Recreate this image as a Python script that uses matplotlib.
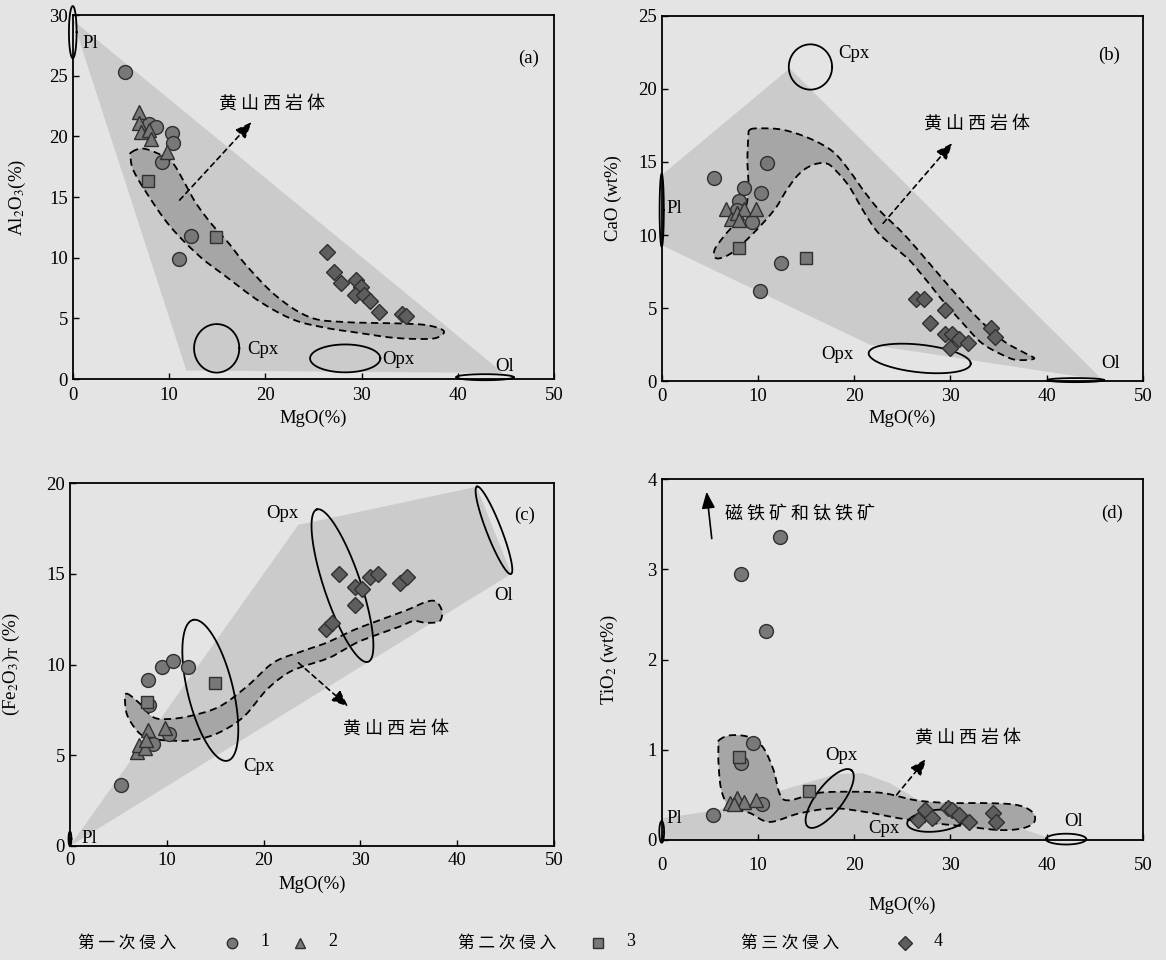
import matplotlib
matplotlib.use('Agg')
import matplotlib.pyplot as plt
import numpy as np

plt.rcParams['font.family'] = ['Liberation Serif', 'Noto Sans CJK SC']
plt.rcParams['mathtext.fontset'] = 'stix'

BG = '#e4e4e4'
LIGHT = '#cbcbcb'
DARK = '#a6a6a6'
MFILL = '#787878'
MEDGE = '#303030'
CJK = ['Noto Sans CJK SC', 'DejaVu Sans']

# ---------------- data: panel (a) Al2O3 vs MgO ----------------
a_c1_x = [5.4, 7.9, 8.6, 10.3, 10.4, 9.3, 12.3, 11.0]
a_c1_y = [25.3, 21.0, 20.8, 20.3, 19.5, 17.9, 11.8, 9.9]
a_t2_x = [6.9, 6.9, 7.1, 7.9, 8.1, 9.8]
a_t2_y = [22.0, 21.1, 20.4, 20.5, 19.8, 18.7]
a_s3_x = [7.85, 14.9]
a_s3_y = [16.3, 11.7]
a_d4_x = [26.4, 27.1, 27.9, 29.4, 29.9, 29.3, 30.3, 30.9, 31.8, 34.2, 34.6]
a_d4_y = [10.5, 8.8, 7.9, 8.2, 7.6, 6.9, 6.9, 6.4, 5.5, 5.4, 5.2]
a_field_x = [0.0, 11.8, 44.7]
a_field_y = [29.6, 0.7, 0.5]
a_hsx_x = [6.1, 7.3, 9.1, 10.4, 11.6, 12.8, 14.4, 16.2, 18.1, 21.2, 24.6, 28.1, 33.3, 36.7, 38.5,
           38.1, 36.8, 33.3, 29.8, 26.4, 22.9, 19.4, 16.0, 13.2, 10.1, 7.7, 6.3, 6.0]
a_hsx_y = [18.7, 19.0, 18.5, 17.8, 16.2, 14.5, 12.8, 11.2, 9.3, 6.8, 5.1, 4.7, 4.6, 4.45, 4.0,
           3.5, 3.3, 3.4, 3.8, 4.2, 4.9, 6.4, 8.4, 10.1, 12.6, 15.3, 17.2, 18.3]

# ---------------- data: panel (b) CaO vs MgO ----------------
b_c1_x = [5.4, 8.6, 10.9, 10.3, 8.0, 9.4, 12.4, 10.2, 7.8]
b_c1_y = [13.9, 13.2, 14.9, 12.9, 12.3, 10.9, 8.1, 6.2, 11.7]
b_t2_x = [6.7, 7.2, 7.8, 8.6, 9.8, 8.05]
b_t2_y = [11.75, 11.1, 11.5, 11.75, 11.75, 11.0]
b_s3_x = [8.0, 15.0]
b_s3_y = [9.1, 8.4]
b_d4_x = [26.4, 27.2, 29.4, 27.9, 29.4, 30.2, 30.9, 31.8, 30.0, 34.2, 34.6]
b_d4_y = [5.6, 5.6, 4.9, 3.95, 3.2, 3.2, 2.9, 2.6, 2.25, 3.65, 3.0]
b_field_x = [13.3, 45.8, 21.6, 0.0, 0.0]
b_field_y = [21.4, 0.07, 2.5, 9.3, 14.1]
b_hsx_x = [9.15, 10.2, 12.6, 15.4, 17.8, 19.5, 20.9, 22.6, 25.1, 27.5, 29.9, 32.7, 35.4, 37.5, 38.7,
           37.1, 35.8, 33.3, 31.3, 29.2, 27.5, 25.7, 23.7, 22.3, 20.9, 19.5, 18.1, 17.1, 15.7, 14.3,
           13.0, 11.9, 10.5, 8.8, 7.1, 5.7, 5.5, 6.7, 8.5, 9.0, 8.9, 9.0]
b_hsx_y = [17.2, 17.3, 17.2, 16.6, 15.7, 14.4, 13.1, 11.7, 10.1, 8.3, 6.45, 4.4, 2.8, 2.0, 1.55,
           1.44, 1.67, 2.58, 3.95, 5.5, 6.9, 8.3, 9.4, 10.3, 11.7, 13.3, 14.4, 14.9, 14.8, 14.2,
           13.1, 11.9, 10.8, 9.65, 8.7, 8.4, 9.0, 10.1, 11.5, 13.1, 15.1, 16.7]

# ---------------- data: panel (c) (Fe2O3)T vs MgO ----------------
c_c1_x = [5.3, 8.1, 9.5, 10.6, 12.2, 8.2, 10.2, 8.6]
c_c1_y = [3.36, 9.15, 9.84, 10.2, 9.84, 7.77, 6.2, 5.6]
c_t2_x = [6.9, 7.1, 7.75, 8.1, 7.9, 9.8]
c_t2_y = [5.2, 5.56, 5.4, 6.4, 5.84, 6.5]
c_s3_x = [8.0, 15.0]
c_s3_y = [7.95, 9.0]
c_d4_x = [27.8, 29.4, 30.2, 31.0, 31.8, 34.1, 34.8, 29.4, 26.5, 27.1]
c_d4_y = [14.97, 14.3, 14.16, 14.8, 15.0, 14.5, 14.84, 13.3, 11.94, 12.3]
c_field_x = [0.0, 23.6, 42.0, 45.6]
c_field_y = [0.0, 17.7, 19.8, 15.0]
c_hsx_x = [5.85, 7.2, 8.6, 10.3, 12.7, 15.5, 18.3, 21.0, 23.8, 26.5, 29.3, 32.0, 34.8, 36.5, 37.7,
           38.4, 38.2, 36.8, 35.5, 34.1, 32.0, 29.6, 26.9, 24.1, 22.4, 20.3, 17.9, 15.2, 12.7, 10.7,
           8.6, 7.2, 6.0, 5.7]
c_hsx_y = [8.4, 7.86, 7.1, 7.0, 7.2, 7.7, 8.8, 10.1, 10.7, 11.2, 11.9, 12.45, 13.0, 13.4, 13.5,
           13.0, 12.4, 12.3, 12.4, 12.1, 11.7, 11.2, 10.4, 9.9, 9.5, 8.6, 7.1, 6.2, 5.84, 5.8,
           5.9, 6.2, 7.1, 7.86]

# ---------------- data: panel (d) TiO2 vs MgO ----------------
d_c1_x = [12.3, 8.2, 10.8, 9.5, 8.2, 10.4, 5.3]
d_c1_y = [3.36, 2.95, 2.32, 1.07, 0.85, 0.395, 0.28]
d_t2_x = [7.1, 7.8, 8.6, 9.8, 7.5]
d_t2_y = [0.41, 0.46, 0.42, 0.44, 0.40]
d_s3_x = [8.05, 15.3]
d_s3_y = [0.92, 0.54]
d_d4_x = [26.6, 27.3, 28.1, 29.7, 30.2, 30.9, 31.96, 34.4, 34.7]
d_d4_y = [0.22, 0.33, 0.24, 0.35, 0.33, 0.28, 0.2, 0.3, 0.2]
d_field_x = [0.0, 5.7, 14.3, 18.1, 20.9, 23.7, 26.4, 29.9, 35.1, 38.9, 40.3, 40.3, 0.0]
d_field_y = [0.24, 0.33, 0.61, 0.73, 0.74, 0.63, 0.46, 0.33, 0.22, 0.07, 0.02, 0.0, 0.0]
d_hsx_x = [5.9, 7.1, 9.1, 10.5, 11.6, 12.3, 13.3, 16.1, 19.5, 23.0, 26.4, 29.9, 33.3, 36.8, 38.5,
           38.7, 37.5, 35.1, 31.6, 28.2, 24.7, 21.2, 17.8, 14.3, 11.2, 9.15, 7.1, 6.2, 5.9, 5.9]
d_hsx_y = [1.1, 1.16, 1.14, 1.03, 0.78, 0.5, 0.44, 0.52, 0.535, 0.52, 0.44, 0.41, 0.41, 0.39, 0.31,
           0.2, 0.13, 0.11, 0.15, 0.185, 0.24, 0.31, 0.35, 0.295, 0.2, 0.3, 0.37, 0.55, 0.85, 1.03]

# mineral ellipses: name -> (centre, semi-axis vector 1, semi-axis vector 2)
a_minerals = {'Pl': ((0.0, 28.6), (0.4, 0.0), (0.0, 2.15)),
              'Cpx': ((14.95, 2.53), (2.35, 0.0), (0.0, 2.0)),
              'Opx': ((28.3, 1.7), (3.65, 0.0), (0.0, 1.15)),
              'Ol': ((42.8, 0.15), (3.0, 0.0), (0.0, 0.25))}
b_minerals = {'Pl': ((0.0, 11.7), (0.22, 0.0), (0.0, 2.5)),
              'Cpx': ((15.45, 21.5), (2.25, 0.0), (0.0, 1.55)),
              'Opx': ((26.8, 1.55), (5.3, -0.35), (0.0, 0.95)),
              'Ol': ((43.0, 0.07), (2.95, 0.0), (0.0, 0.14))}
c_minerals = {'Pl': ((0.0, 0.4), (0.15, 0.0), (0.0, 0.4)),
              'Cpx': ((14.5, 8.58), (-1.79, 3.88), (2.27, 0.30)),
              'Opx': ((28.15, 14.35), (-2.65, 4.2), (1.79, 0.33)),
              'Ol': ((43.8, 17.4), (-1.76, 2.41), (0.71, 0.147))}
d_minerals = {'Pl': ((0.0, 0.09), (0.25, 0.0), (0.0, 0.12)),
              'Cpx': ((28.5, 0.214), (3.0, 0.03), (0.0, 0.12)),
              'Opx': ((17.45, 0.46), (2.25, 0.314), (1.1, -0.09)),
              'Ol': ((42.0, 0.01), (2.1, 0.0), (0.0, 0.06))}

# label positions (x, y, ha)
a_labels = {'Pl': (1.8, 27.7, 'center'), 'Cpx': (18.1, 2.4, 'left'), 'Opx': (32.2, 1.6, 'left'),
            'Ol': (44.9, 1.0, 'center'), '(a)': (47.3, 26.4, 'center')}
b_labels = {'Pl': (0.5, 11.8, 'left'), 'Cpx': (20.0, 22.4, 'center'), 'Opx': (18.3, 1.8, 'center'),
            'Ol': (46.6, 1.2, 'center'), '(b)': (46.5, 22.3, 'center')}
c_labels = {'Pl': (1.2, 0.42, 'left'), 'Cpx': (19.5, 4.4, 'center'), 'Opx': (21.9, 18.3, 'center'),
            'Ol': (44.8, 13.8, 'center'), '(c)': (47.0, 18.2, 'center')}
d_labels = {'Pl': (0.5, 0.24, 'left'), 'Cpx': (23.1, 0.13, 'center'), 'Opx': (18.7, 0.94, 'center'),
            'Ol': (42.8, 0.2, 'center'), '(d)': (46.8, 3.62, 'center')}


def smooth_closed(xs, ys, n=16):
    # periodic Catmull-Rom through the traced outline
    P = np.column_stack([xs, ys])
    N = len(P)
    t = np.linspace(0, 1, n, endpoint=False)[:, None]
    out = []
    for i in range(N):
        p0, p1, p2, p3 = P[(i - 1) % N], P[i], P[(i + 1) % N], P[(i + 2) % N]
        seg = 0.5 * (2 * p1 + (-p0 + p2) * t + (2 * p0 - 5 * p1 + 4 * p2 - p3) * t ** 2
                     + (-p0 + 3 * p1 - 3 * p2 + p3) * t ** 3)
        out.append(seg)
    out = np.vstack(out)
    return np.vstack([out, out[:1]])


def draw_ellipse(ax, c, u, v, lw=1.3):
    t = np.linspace(0, 2 * np.pi, 200)
    x = c[0] + u[0] * np.cos(t) + v[0] * np.sin(t)
    y = c[1] + u[1] * np.cos(t) + v[1] * np.sin(t)
    ax.plot(x, y, color='black', lw=lw, zorder=4, clip_on=False)


def panel(ax, ymax, ystep, field, hsx, pts, minerals, labels):
    ax.set_facecolor(BG)
    ax.fill(field[0], field[1], color=LIGHT, lw=0, zorder=1)
    xy = smooth_closed(*hsx)
    ax.fill(xy[:, 0], xy[:, 1], color=DARK, lw=0, zorder=2)
    ax.plot(xy[:, 0], xy[:, 1], color='black', lw=1.3, ls=(0, (4, 2.5)), zorder=3)
    for name, (c, u, v) in minerals.items():
        draw_ellipse(ax, c, u, v)
    (c1x, c1y), (t2x, t2y), (s3x, s3y), (d4x, d4y) = pts
    kw = dict(linestyle='none', markeredgecolor=MEDGE, markeredgewidth=1.0, zorder=5)
    ax.plot(c1x, c1y, marker='o', ms=10, markerfacecolor=MFILL, **kw)
    ax.plot(t2x, t2y, marker='^', ms=10.5, markerfacecolor=MFILL, **kw)
    ax.plot(s3x, s3y, marker='s', ms=9, markerfacecolor=MFILL, **kw)
    ax.plot(d4x, d4y, marker='D', ms=7.8, markerfacecolor='#5e5e5e', **kw)
    for txt, (x, y, ha) in labels.items():
        ax.text(x, y, txt, fontsize=13.5, ha=ha, va='center', zorder=6)
    ax.set_xlim(0, 50)
    ax.set_ylim(0, ymax)
    ax.set_xticks(np.arange(0, 51, 10))
    ax.set_yticks(np.arange(0, ymax + 0.01, ystep))
    ax.tick_params(direction='in', length=4, width=1, labelsize=13.5, top=False, right=False)
    for s in ax.spines.values():
        s.set_linewidth(1.3)


def dashed_arrow(ax, tail, head, text, tpos):
    ax.annotate('', xy=head, xytext=tail, zorder=6,
                arrowprops=dict(arrowstyle='-|>,head_length=1.0,head_width=0.4', color='black',
                                lw=1.2, linestyle=(0, (3, 2.5)), shrinkA=0, shrinkB=0))
    ax.text(tpos[0], tpos[1], text, fontsize=13, family=CJK, ha='center', va='center', zorder=6)


fig = plt.figure(figsize=(11.66, 9.6), dpi=100)
fig.patch.set_facecolor(BG)

axa = fig.add_axes([0.0624, 0.6052, 0.4128, 0.379])
axb = fig.add_axes([0.5675, 0.6030, 0.4128, 0.3805])
axc = fig.add_axes([0.0600, 0.11875, 0.4151, 0.378])
axd = fig.add_axes([0.5675, 0.1250, 0.4128, 0.376])

panel(axa, 30, 5, (a_field_x, a_field_y), (a_hsx_x, a_hsx_y),
      [(a_c1_x, a_c1_y), (a_t2_x, a_t2_y), (a_s3_x, a_s3_y), (a_d4_x, a_d4_y)], a_minerals, a_labels)
panel(axb, 25, 5, (b_field_x, b_field_y), (b_hsx_x, b_hsx_y),
      [(b_c1_x, b_c1_y), (b_t2_x, b_t2_y), (b_s3_x, b_s3_y), (b_d4_x, b_d4_y)], b_minerals, b_labels)
panel(axc, 20, 5, (c_field_x, c_field_y), (c_hsx_x, c_hsx_y),
      [(c_c1_x, c_c1_y), (c_t2_x, c_t2_y), (c_s3_x, c_s3_y), (c_d4_x, c_d4_y)], c_minerals, c_labels)
panel(axd, 4, 1, (d_field_x, d_field_y), (d_hsx_x, d_hsx_y),
      [(d_c1_x, d_c1_y), (d_t2_x, d_t2_y), (d_s3_x, d_s3_y), (d_d4_x, d_d4_y)], d_minerals, d_labels)

body = '黄 山 西 岩 体'
dashed_arrow(axa, (11.1, 14.75), (18.6, 21.2), body, (20.7, 22.7))
dashed_arrow(axb, (23.0, 10.8), (30.2, 16.3), body, (32.8, 17.6))
dashed_arrow(axc, (23.6, 10.1), (28.75, 7.68), body, (33.7, 6.48))
dashed_arrow(axd, (24.4, 0.5), (27.5, 0.9), body, (31.8, 1.14))

axd.annotate('', xy=(4.66, 3.86), xytext=(5.2, 3.34), zorder=6,
             arrowprops=dict(arrowstyle='-|>,head_length=1.0,head_width=0.4', color='black',
                             lw=1.2, shrinkA=0, shrinkB=0))
axd.text(6.6, 3.62, '磁 铁 矿 和 钛 铁 矿', fontsize=13, family=CJK, ha='left', va='center')

axa.set_ylabel(r'Al$_2$O$_3$(%)', fontsize=13.5)
axb.set_ylabel('CaO (wt%)', fontsize=13.5)
axc.set_ylabel(r'(Fe$_2$O$_3$)$_\mathrm{T}$ (%)', fontsize=13.5)
axd.set_ylabel(r'TiO$_2$ (wt%)', fontsize=13.5)
for ax in (axa, axb, axc, axd):
    ax.set_xlabel('MgO(%)', fontsize=13.5)
axa.xaxis.set_label_coords(0.5, -0.085)
axb.xaxis.set_label_coords(0.5, -0.079)
axc.xaxis.set_label_coords(0.5, -0.083)
axd.xaxis.set_label_coords(0.5, -0.158)
axa.yaxis.set_label_coords(-0.093, 0.5)
axb.yaxis.set_label_coords(-0.083, 0.5)
axc.yaxis.set_label_coords(-0.099, 0.5)
axd.yaxis.set_label_coords(-0.087, 0.5)
axa.tick_params(axis='x', pad=6)
axb.tick_params(axis='x', pad=5)
axc.tick_params(axis='x', pad=4)
axd.tick_params(axis='x', pad=12)

# legend row
lax = fig.add_axes([0, 0, 1, 0.05])
lax.set_xlim(0, 1166)
lax.set_ylim(0, 48)
lax.axis('off')
groups = [('第 一 次 侵 入', 127), ('第 二 次 侵 入', 507), ('第 三 次 侵 入', 790)]
for txt, x in groups:
    lax.text(x, 17, txt, fontsize=12, family=CJK, ha='center', va='center')
legend_marks = [('o', '1', 232, MFILL), ('^', '2', 300, MFILL), ('s', '3', 598, MFILL), ('D', '4', 905, '#5e5e5e')]
for m, lab, x, fc in legend_marks:
    lax.plot([x], [17], marker=m, ms=7.5, markerfacecolor=fc, markeredgecolor=MEDGE, linestyle='none')
    lax.text(x + 33, 19, lab, fontsize=13, ha='center', va='center')

fig.savefig('out.png', dpi=100, facecolor=BG)
